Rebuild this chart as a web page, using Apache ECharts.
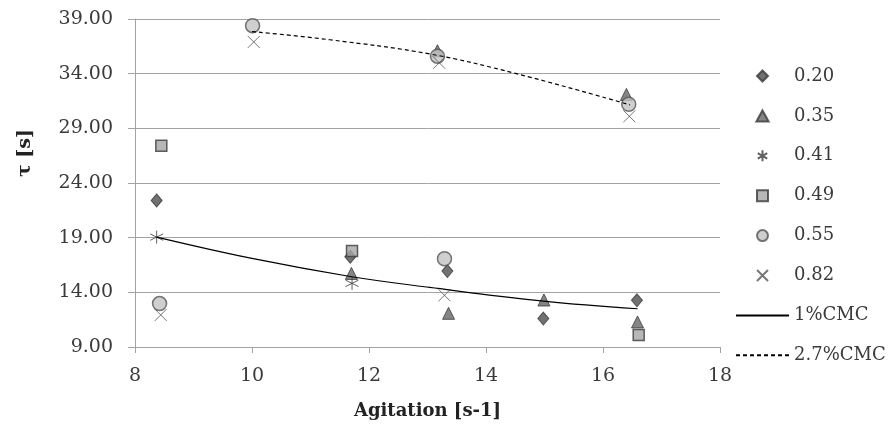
<!DOCTYPE html>
<html>
<head>
<meta charset="utf-8">
<script src="https://cdn.jsdelivr.net/npm/echarts@6/dist/echarts.min.js"></script>
<style>
  html, body { margin: 0; padding: 0; background: #ffffff; }
  #chart { width: 892px; height: 425px; }
</style>
</head>
<body>
<div id="chart"></div>
<script>
const FONT = '"DejaVu Serif", "Liberation Serif", serif';
const TEXT = '#3a3a3a';
const GRID = '#a3a3a3';

// Legend entries
const ratioNames = ['0.20', '0.35', '0.41', '0.49', '0.55', '0.82'];
const fitNames = ['1%CMC', '2.7%CMC'];

// Agitation [s-1] and mixing time τ [s] for each ratio
const agit020 = [8.37, 11.68, 13.34, 14.98, 16.58];
const tau020  = [22.4, 17.26, 15.95, 11.6, 13.27];
const agit035 = [11.70, 13.36, 14.99, 16.59, 13.17, 16.40];
const tau035  = [15.73, 12.08, 13.30, 11.29, 36.1, 32.1];
const agit041 = [8.37, 11.71];
const tau041  = [19.05, 14.82];
const agit049 = [8.45, 11.71, 16.61];
const tau049  = [27.4, 17.77, 10.1];
const agit055 = [8.42, 13.29, 10.01, 13.17, 16.44];
const tau055  = [12.97, 17.07, 38.39, 35.6, 31.2];
const agit082 = [8.44, 13.29, 10.03, 13.20, 16.45];
const tau082  = [11.93, 13.73, 36.9, 35.0, 30.1];

// Trend curves for the two CMC solutions
const agitFit1  = [8.37, 10.0, 11.68, 13.04, 14.98, 16.59];
const tauFit1   = [19.05, 17.1, 15.45, 14.45, 13.2, 12.5];
const agitFit27 = [10.0, 11.33, 13.04, 14.52, 16.46];
const tauFit27  = [37.85, 37.1, 35.8, 34.0, 31.15];

// Axis ranges
const xMin = 8, xMax = 18, xStep = 2;
const yMin = 9, yMax = 39, yStep = 5;

const pairs = (xs, ys) => xs.map((x, i) => [x, ys[i]]);

const CROSS = 'path://M0,0L10,10M10,0L0,10';
const STAR = 'path://M5,0L5,10M0.7,2.5L9.3,7.5M9.3,2.5L0.7,7.5';
const DIAMOND = 'path://M5,0L10,5L5,10L0,5Z';
const TRIANGLE = 'path://M5,0L10,9L0,9Z';
const SQUARE = 'path://M0,0L10,0L10,10L0,10Z';

const markers = [
  { symbol: 'diamond',  size: [11, 13], style: { color: '#4f4f4f', borderColor: '#3a3a3a', borderWidth: 1 } },
  { symbol: 'triangle', size: [12, 12], style: { color: '#666666', borderColor: '#3a3a3a', borderWidth: 1 } },
  { symbol: STAR,       size: [13, 13], style: { color: 'none', borderColor: '#3a3a3a', borderWidth: 1 } },
  { symbol: 'rect',     size: [11, 11], style: { color: '#a5a5a5', borderColor: '#3a3a3a', borderWidth: 1.5 } },
  { symbol: 'circle',   size: [14, 14], style: { color: '#c3c3c3', borderColor: '#555555', borderWidth: 1.5 } },
  { symbol: CROSS,      size: [12, 12], style: { color: 'none', borderColor: '#555555', borderWidth: 1 } }
];
const ratioData = [
  pairs(agit020, tau020), pairs(agit035, tau035), pairs(agit041, tau041),
  pairs(agit049, tau049), pairs(agit055, tau055), pairs(agit082, tau082)
];

const scatterSeries = ratioNames.map((name, i) => ({
  name,
  type: 'scatter',
  data: ratioData[i],
  symbol: markers[i].symbol,
  symbolSize: markers[i].size,
  itemStyle: markers[i].style,
  emphasis: { disabled: true }
}));

const lineSeries = [
  {
    name: fitNames[0], type: 'line', data: pairs(agitFit1, tauFit1),
    smooth: 0.4, showSymbol: false, symbol: 'none',
    lineStyle: { color: '#000000', width: 1.2, type: 'solid' },
    itemStyle: { color: '#000000' }
  },
  {
    name: fitNames[1], type: 'line', data: pairs(agitFit27, tauFit27),
    smooth: 0.4, showSymbol: false, symbol: 'none',
    lineStyle: { color: '#000000', width: 1.2, type: [4, 3] },
    itemStyle: { color: '#000000' }
  }
];

const legendIcon = [DIAMOND, TRIANGLE, STAR, SQUARE, 'circle', CROSS];
const hiddenDot = { color: 'rgba(0,0,0,0)', borderColor: 'rgba(0,0,0,0)', borderWidth: 0 };

const chart = echarts.init(document.getElementById('chart'), null, { renderer: 'canvas' });
chart.setOption({
  animation: false,
  backgroundColor: '#ffffff',
  textStyle: { fontFamily: FONT },
  grid: { left: 135, right: 172, top: 19, bottom: 77, containLabel: false },
  legend: {
    orient: 'vertical',
    left: 730,
    top: 61,
    itemWidth: 53,
    itemHeight: 11,
    itemGap: 19.9,
    symbolKeepAspect: true,
    data: ratioNames.map((n, i) => ({ name: n, icon: legendIcon[i] }))
      .concat(fitNames.map(n => ({ name: n, itemStyle: hiddenDot }))),
    textStyle: { fontFamily: FONT, fontSize: 18, color: TEXT, lineHeight: 20 },
    selectedMode: false
  },
  xAxis: {
    type: 'value', min: xMin, max: xMax, interval: xStep,
    name: 'Agitation [s-1]', nameLocation: 'middle', nameGap: 55,
    nameTextStyle: { fontFamily: FONT, fontSize: 18, fontWeight: 'bold', color: '#222222' },
    axisLine: { show: true, lineStyle: { color: GRID, width: 1 } },
    axisTick: { show: true, length: 6, lineStyle: { color: GRID } },
    axisLabel: { fontFamily: FONT, fontSize: 19, color: TEXT, margin: 20 },
    splitLine: { show: false }
  },
  yAxis: {
    type: 'value', min: yMin, max: yMax, interval: yStep,
    name: 'τ [s]', nameLocation: 'middle', nameGap: 100, nameRotate: 90,
    nameTextStyle: { fontFamily: FONT, fontSize: 19, fontWeight: 'bold', color: '#222222', padding: [0, 0, 0, 60] },
    axisLine: { show: true, lineStyle: { color: GRID, width: 1 } },
    axisTick: { show: true, length: 7, inside: false, lineStyle: { color: GRID } },
    axisLabel: { fontFamily: FONT, fontSize: 19, color: TEXT, margin: 22, formatter: v => v.toFixed(2) },
    splitLine: { show: true, lineStyle: { color: GRID, width: 1 } }
  },
  series: scatterSeries.concat(lineSeries)
});
</script>
</body>
</html>
